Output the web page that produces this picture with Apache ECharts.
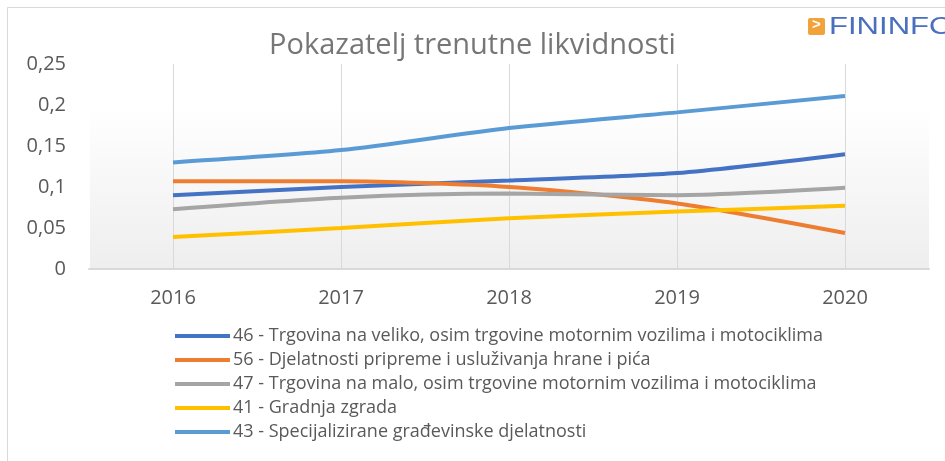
<!DOCTYPE html>
<html>
<head>
<meta charset="utf-8">
<script src="https://cdn.jsdelivr.net/npm/echarts@6/dist/echarts.min.js"></script>
<style>
  html, body { margin: 0; padding: 0; background: #fff; }
  #chart { width: 945px; height: 461px; }
</style>
</head>
<body>
<div id="chart"></div>
<script>
const years = ['2016', '2017', '2018', '2019', '2020'];
const yTicks = [0, 0.05, 0.1, 0.15, 0.2, 0.25];

const names = [
  '46 - Trgovina na veliko, osim trgovine motornim vozilima i motociklima',
  '56 - Djelatnosti pripreme i usluživanja hrane i pića',
  '47 - Trgovina na malo, osim trgovine motornim vozilima i motociklima',
  '41 - Gradnja zgrada',
  '43 - Specijalizirane građevinske djelatnosti'
];
const colors = ['#4472c4', '#ed7d31', '#a5a5a5', '#ffc000', '#5b9bd5'];

const veliko = [0.090, 0.100, 0.108, 0.117, 0.140];
const ugostiteljstvo = [0.107, 0.107, 0.100, 0.080, 0.044];
const malo = [0.073, 0.087, 0.092, 0.090, 0.099];
const gradnja = [0.039, 0.050, 0.062, 0.070, 0.077];
const specijalizirane = [0.130, 0.145, 0.172, 0.191, 0.211];

const values = [veliko, ugostiteljstvo, malo, gradnja, specijalizirane];

const font = 'Open Sans, Liberation Sans, sans-serif';
const chart = echarts.init(document.getElementById('chart'));

chart.setOption({
  animation: false,
  title: {
    text: 'Pokazatelj trenutne likvidnosti',
    left: 'center',
    top: 26,
    textStyle: { fontFamily: font, fontSize: 29, fontWeight: 'normal', color: '#767676' }
  },
  graphic: [
    { type: 'rect', left: 5, top: 5, shape: { width: 960, height: 470 },
      style: { fill: 'none', stroke: '#d9d9d9', lineWidth: 1 } },
    { type: 'rect', left: 90, top: 108, z: -10, shape: { width: 839, height: 161 },
      style: { fill: new echarts.graphic.LinearGradient(0, 0, 0, 1, [
        { offset: 0, color: '#ffffff' }, { offset: 1, color: '#eeeeee' }]) } },
    { type: 'rect', left: 808, top: 18, shape: { width: 17, height: 17, r: 2 },
      style: { fill: '#f2a23a' } },
    { type: 'text', left: 812, top: 17,
      style: { text: '>', fill: '#fff', font: 'bold 15px Liberation Sans, sans-serif' } },
    { type: 'text', x: 829, y: 16, scaleX: 1.35,
      style: { text: 'FININFO', fill: '#4a6fbf', font: '23px Liberation Sans, sans-serif' } }
  ],
  legend: {
    orient: 'vertical',
    left: 170,
    top: 322,
    itemWidth: 55,
    itemHeight: 4,
    itemGap: 6,
    icon: 'rect',
    textStyle: { fontFamily: font, fontSize: 18, color: '#595959', padding: [0, 0, 0, -2] }
  },
  grid: { left: 89, right: 16, top: 64, bottom: 192 },
  xAxis: {
    type: 'category',
    data: years,
    boundaryGap: true,
    axisLine: { lineStyle: { color: '#d9d9d9', width: 2 } },
    axisTick: { show: false, alignWithLabel: true },
    splitLine: { show: true, alignWithLabel: true, lineStyle: { color: '#d9d9d9', width: 1 } },
    axisLabel: { fontFamily: font, fontSize: 20, color: '#595959', margin: 19 }
  },
  yAxis: {
    type: 'value',
    min: yTicks[0],
    max: yTicks[yTicks.length - 1],
    interval: 0.05,
    axisLine: { show: false },
    axisTick: { show: false },
    splitLine: { show: false },
    axisLabel: {
      fontFamily: font, fontSize: 20, color: '#595959', margin: 23,
      formatter: v => String(+v.toFixed(2)).replace('.', ',')
    }
  },
  series: names.map((n, i) => ({
    name: n,
    type: 'line',
    data: values[i],
    smooth: 0.25,
    symbol: 'none',
    lineStyle: { width: 4, color: colors[i] },
    itemStyle: { color: colors[i] }
  }))
});
</script>
</body>
</html>
